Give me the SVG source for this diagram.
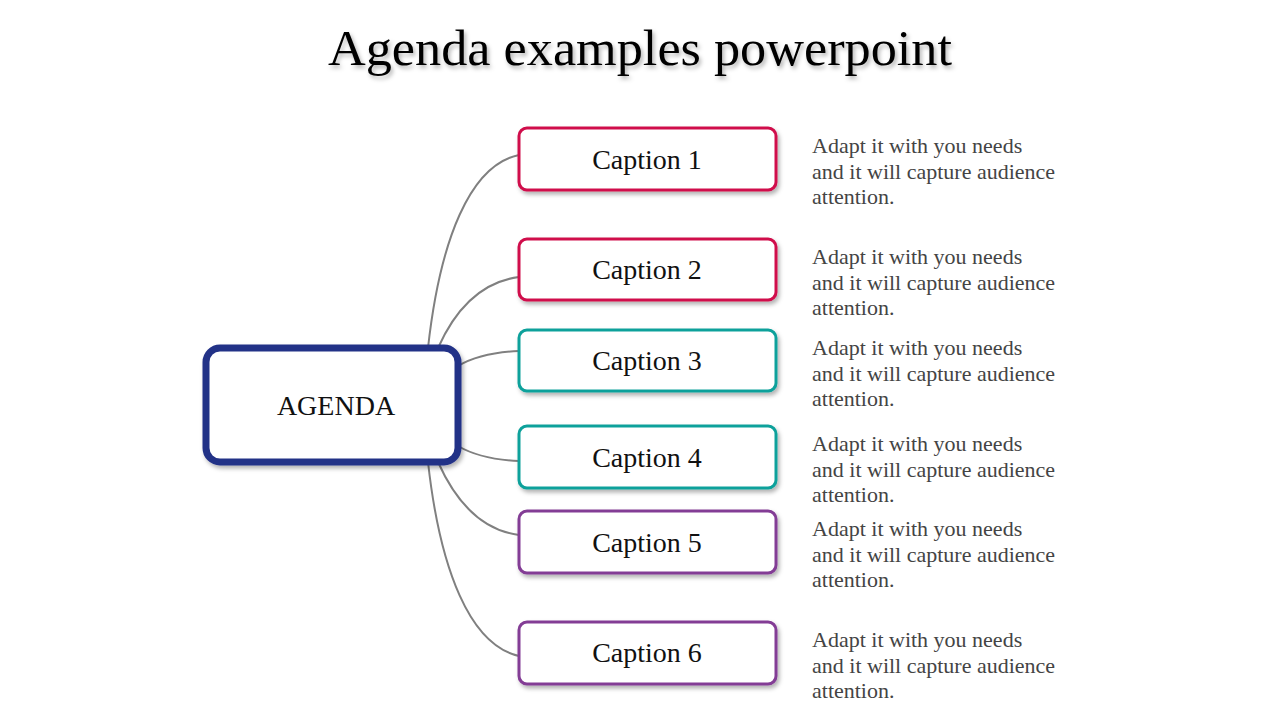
<svg xmlns="http://www.w3.org/2000/svg" width="1280" height="720" viewBox="0 0 1280 720">
<defs>
<filter id="sh" x="-10%" y="-10%" width="130%" height="140%"><feDropShadow dx="2" dy="3" stdDeviation="2" flood-color="#000" flood-opacity="0.3"/></filter>
<style>
.box{fill:#fff;stroke-width:3;filter:url(#sh)}
.r{stroke:#D0104C}.t{stroke:#0FA19B}.p{stroke:#833C95}
.cap{font-family:"Liberation Serif",serif;font-size:28px;fill:#111;text-anchor:middle}
.d{font-family:"Liberation Serif",serif;font-size:22px;fill:#444}
.c{fill:none;stroke:#808080;stroke-width:2}
</style>
</defs>
<rect width="1280" height="720" fill="#fff"/>
<text x="640" y="65" text-anchor="middle" font-family="Liberation Serif,serif" font-size="50" fill="#000" filter="url(#sh)" textLength="624" lengthAdjust="spacingAndGlyphs">Agenda examples powerpoint</text>
<g id="connectors">
<path class="c" d="M428,348 C440,240 470,165 519,155"/>
<path class="c" d="M438,348 C455,310 480,282 519,277"/>
<path class="c" d="M458,366 C475,356 495,352 519,351"/>
<path class="c" d="M458,446 C475,456 495,460 519,461"/>
<path class="c" d="M438,462 C455,500 480,530 519,535"/>
<path class="c" d="M428,462 C440,570 470,645 519,656"/>
</g>
<g id="agenda"><rect x="206" y="348" width="252" height="114" rx="14" fill="#fff" stroke="#233287" stroke-width="7" filter="url(#sh)"/><text x="336" y="415" class="cap" font-size="32">AGENDA</text></g>
<g id="c1"><rect class="box r" x="519" y="128" width="257" height="62" rx="8"/><text class="cap" x="647" y="169">Caption 1</text></g>
<g id="c2"><rect class="box r" x="519" y="239" width="257" height="61" rx="8"/><text class="cap" x="647" y="279">Caption 2</text></g>
<g id="c3"><rect class="box t" x="519" y="330" width="257" height="61" rx="8"/><text class="cap" x="647" y="370">Caption 3</text></g>
<g id="c4"><rect class="box t" x="519" y="426" width="257" height="62" rx="8"/><text class="cap" x="647" y="467">Caption 4</text></g>
<g id="c5"><rect class="box p" x="519" y="511" width="257" height="62" rx="8"/><text class="cap" x="647" y="552">Caption 5</text></g>
<g id="c6"><rect class="box p" x="519" y="622" width="257" height="62" rx="8"/><text class="cap" x="647" y="662">Caption 6</text></g>
<g id="descs" class="d">
<text class="d" x="812" y="153">Adapt it with you needs<tspan x="812" dy="25.5">and it will capture audience</tspan><tspan x="812" dy="25.5">attention.</tspan></text>
<text class="d" x="812" y="264">Adapt it with you needs<tspan x="812" dy="25.5">and it will capture audience</tspan><tspan x="812" dy="25.5">attention.</tspan></text>
<text class="d" x="812" y="355">Adapt it with you needs<tspan x="812" dy="25.5">and it will capture audience</tspan><tspan x="812" dy="25.5">attention.</tspan></text>
<text class="d" x="812" y="451">Adapt it with you needs<tspan x="812" dy="25.5">and it will capture audience</tspan><tspan x="812" dy="25.5">attention.</tspan></text>
<text class="d" x="812" y="536">Adapt it with you needs<tspan x="812" dy="25.5">and it will capture audience</tspan><tspan x="812" dy="25.5">attention.</tspan></text>
<text class="d" x="812" y="647">Adapt it with you needs<tspan x="812" dy="25.5">and it will capture audience</tspan><tspan x="812" dy="25.5">attention.</tspan></text>
</g>
</svg>
